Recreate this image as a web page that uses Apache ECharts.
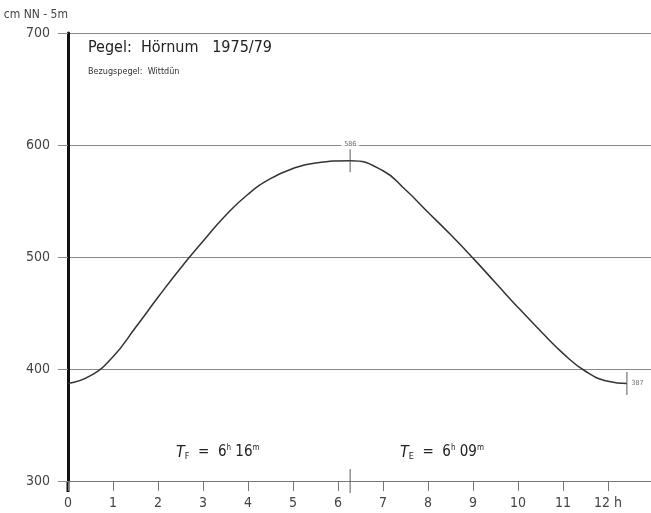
<!DOCTYPE html>
<html>
<head>
<meta charset="utf-8">
<script src="https://cdn.jsdelivr.net/npm/echarts@6/dist/echarts.min.js"></script>
<style>
  html, body { margin: 0; padding: 0; background: #fff; }
  #chart { width: 651px; height: 513px; }
</style>
</head>
<body>
<div id="chart"></div>
<script>
// Tidekurve Hörnum, Stunden nach Niedrigwasser
var hours  = [0, 0.5, 1, 1.5, 2, 2.5, 3, 3.5, 4, 4.5, 5, 5.5, 6.27, 7, 7.5, 8, 8.5, 9, 9.5, 10, 10.5, 11, 11.5, 12, 12.42];
var levels = [387, 394, 411, 437, 464, 490, 514, 537, 556, 570, 579, 584, 586, 577, 560, 540, 520, 499, 477, 455, 434, 414, 398, 389, 387];
var peak   = [6.27, 586];   // Hochwasser, TF = 6h16m
var endLow = [12.42, 387];  // folgendes Niedrigwasser, TF + TE
var yTicks = [300, 400, 500, 600, 700];

var FONT = '"DejaVu Sans Condensed", "Liberation Sans Narrow", "DejaVu Sans", sans-serif';
var NARROW = '"Liberation Sans Narrow", "DejaVu Sans Condensed", sans-serif';
var GREY = '#8a8a8a';

var curve = hours.map(function (h, i) { return [h, levels[i]]; });

var myChart = echarts.init(document.getElementById('chart'));

function tideText(id, x, sub, h, m) {
  return { type: 'text', id: id, left: x, top: 444,
    style: {
      text: '{t|T}{s|' + sub + '}  =  ' + h + '{u|h} ' + m + '{u|m}',
      fill: '#222', font: '15px ' + FONT,
      rich: {
        t: { fontStyle: 'italic', fontSize: 16, fontFamily: FONT, fill: '#222' },
        s: { fontSize: 9, fontFamily: FONT, verticalAlign: 'bottom', padding: [8, 0, 0, 0], fill: '#222' },
        u: { fontSize: 8, fontFamily: FONT, verticalAlign: 'top', padding: [0, 0, 8, 0], fill: '#222' }
      }
    } };
}

var option = {
  animation: false,
  backgroundColor: '#fff',
  textStyle: { fontFamily: FONT },
  grid: { left: 68, top: 33, bottom: 32, right: -2, outerBoundsMode: 'none', containLabel: false },
  xAxis: {
    type: 'value', min: 0, max: 13, interval: 1,
    axisLine: { show: true, lineStyle: { color: '#777', width: 1 } },
    axisTick: { show: true, length: 10, lineStyle: { color: '#777' },
      customValues: [0, 1, 2, 3, 4, 5, 6, 7, 8, 9, 10, 11, 12] },
    axisLabel: { color: '#444', fontSize: 14, margin: 15, fontFamily: NARROW,
      customValues: [0, 1, 2, 3, 4, 5, 6, 7, 8, 9, 10, 11, 12],
      formatter: function (v) { return v === 12 ? '12 h' : String(v); } },
    splitLine: { show: false }
  },
  yAxis: {
    type: 'value', min: yTicks[0], max: yTicks[yTicks.length - 1], interval: 100,
    name: 'cm NN - 5m', nameGap: 12,
    nameTextStyle: { color: '#444', fontSize: 12, align: 'right', padding: [0, 0, 0, 0], fontFamily: NARROW },
    axisLine: { show: true, lineStyle: { color: '#111', width: 3 } },
    axisTick: { show: true, length: 10, lineStyle: { color: GREY } },
    axisLabel: { color: '#444', fontSize: 14, margin: 18, fontFamily: NARROW },
    splitLine: { show: true, lineStyle: { color: GREY, width: 1 } }
  },
  series: [
    {
      type: 'line', smooth: 0.5, showSymbol: false, symbol: 'none',
      lineStyle: { color: '#333', width: 1.5 },
      data: curve.map(function (p, i) {
        if (i === 0) {
          return { value: p, label: { show: true, position: 'left', distance: 4,
            formatter: String(p[1]), fontSize: 7, color: '#444' } };
        }
        return p;
      }),
      z: 3
    },
    {
      // Markierungen an Hoch- und Niedrigwasser
      type: 'scatter', symbol: 'rect', symbolSize: [1.2, 23],
      itemStyle: { color: '#555' }, silent: true, z: 4,
      data: [
        { value: peak, label: { show: true, position: 'top', distance: 0,
          formatter: String(peak[1]), fontSize: 7, color: '#444',
          backgroundColor: '#fff', padding: [1, 3] } },
        { value: endLow, label: { show: true, position: 'right', distance: 4,
          formatter: String(endLow[1]), fontSize: 7, color: '#444' } },
        { value: [peak[0], yTicks[0]], symbolSize: [1.2, 24] }
      ]
    }
  ],
  graphic: [
    { type: 'text', id: 'title', left: 88, top: 40,
      style: { text: 'Pegel:  Hörnum   1975/79', font: '16px ' + FONT, fill: '#222' } },
    { type: 'text', id: 'subtitle', left: 88, top: 67,
      style: { text: 'Bezugspegel:  Wittdün', font: '9px ' + FONT, fill: '#333' } },
    tideText('tf', 176, 'F', 6, 16),
    tideText('te', 400, 'E', 6, '09')
  ]
};

myChart.setOption(option);

// dicke Ordinate etwas über/unter das Diagramm verlängern
var top = myChart.convertToPixel({ gridIndex: 0 }, [0, yTicks[yTicks.length - 1]]);
var bot = myChart.convertToPixel({ gridIndex: 0 }, [0, yTicks[0]]);
myChart.setOption({
  graphic: [
    { type: 'line', id: 'axisTop', shape: { x1: top[0], y1: top[1] - 12, x2: top[0], y2: top[1] },
      style: { stroke: '#111', lineWidth: 3 } },
    { type: 'line', id: 'axisBottom', shape: { x1: bot[0], y1: bot[1], x2: bot[0], y2: bot[1] + 11 },
      style: { stroke: '#111', lineWidth: 3 } }
  ]
});
</script>
</body>
</html>
